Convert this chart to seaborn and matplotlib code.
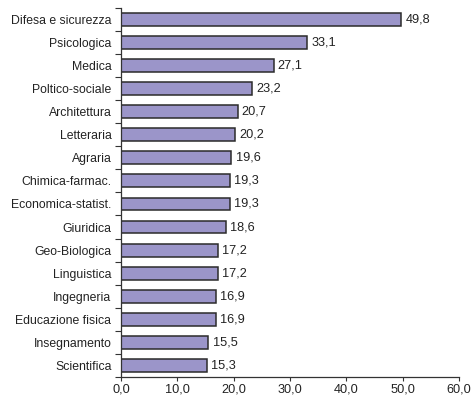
import numpy as np
import pandas as pd
import matplotlib
matplotlib.use("Agg")
import matplotlib.pyplot as plt
import seaborn as sns
from matplotlib.ticker import FixedLocator, NullFormatter

# data
categories = ["Difesa e sicurezza", "Psicologica", "Medica", "Poltico-sociale",
              "Architettura", "Letteraria", "Agraria", "Chimica-farmac.",
              "Economica-statist.", "Giuridica", "Geo-Biologica", "Linguistica",
              "Ingegneria", "Educazione fisica", "Insegnamento", "Scientifica"]
values = [49.8, 33.1, 27.1, 23.2, 20.7, 20.2, 19.6, 19.3,
          19.3, 18.6, 17.2, 17.2, 16.9, 16.9, 15.5, 15.3]
xticks = [0, 10, 20, 30, 40, 50, 60]

df = pd.DataFrame({"cat": categories, "val": values})

sns.set_theme(style="white")
plt.rcParams['font.family'] = ['Liberation Sans', 'DejaVu Sans']
fs = 8.8

fig = plt.figure(figsize=(4.75, 3.98), dpi=100)
ax = fig.add_axes([0.255, 0.053, 0.711, 0.927])

sns.barplot(data=df, x="val", y="cat", orient="h", color="#9b95c9",
            saturation=1, width=0.56, edgecolor="#2b2b2b", linewidth=1.1, ax=ax)

ax.bar_label(ax.containers[0], labels=[f"{v:.1f}".replace(".", ",") for v in values],
             padding=3, fontsize=fs + 0.4, color="#222222")

ax.set_xlim(0, 60)
ax.set_ylim(len(categories) - 0.5, -0.5)
ax.set_xticks(xticks)
ax.set_xticklabels([f"{t:.1f}".replace(".", ",") for t in xticks])
ax.set_xlabel("")
ax.set_ylabel("")

# y ticks between categories
ax.yaxis.set_minor_locator(FixedLocator(np.arange(-0.5, len(categories), 1.0)))
ax.yaxis.set_minor_formatter(NullFormatter())
ax.tick_params(axis="y", which="major", length=0, pad=7, labelsize=fs, labelcolor="#222222")
ax.tick_params(axis="y", which="minor", left=True, length=4, width=0.8, color="#333333")
ax.tick_params(axis="x", bottom=True, length=3, width=0.8, color="#333333", pad=2,
               labelsize=fs + 0.4, labelcolor="#222222")

for s in ["top", "right"]:
    ax.spines[s].set_visible(False)
for s in ["left", "bottom"]:
    ax.spines[s].set_color("#333333")
    ax.spines[s].set_linewidth(0.9)

fig.savefig("out.png", dpi=100)
